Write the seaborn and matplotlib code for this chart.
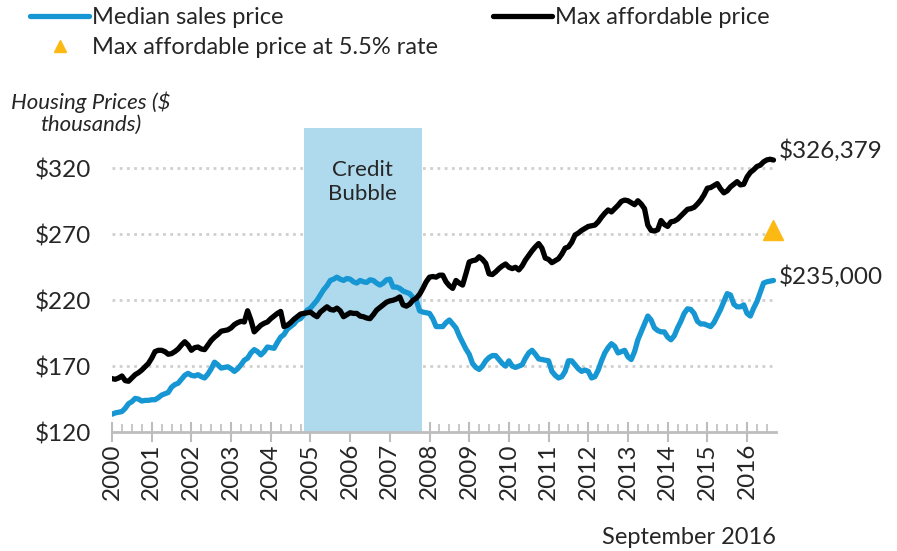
import numpy as np
import pandas as pd
import seaborn as sns
import matplotlib.pyplot as plt
from matplotlib.lines import Line2D
from matplotlib.ticker import MultipleLocator, FixedLocator

sns.set_style('white')
plt.rcParams['font.family'] = ['Lato', 'DejaVu Sans']

# monthly values, Jan 2000 - Sep 2016 ($ thousands)
median_price = [
    133.5, 134.5, 135, 135.5, 138, 141.5, 143, 145.5, 145, 143.5, 144, 144,
    144.5, 144.5, 146, 148, 149, 150, 154, 156, 157, 160, 163, 164.5,
    163, 162.5, 163.5, 162, 161, 164, 168, 173, 171, 168.5, 169, 169.5,
    168, 166, 168, 171, 174.5, 176, 180, 182.5, 181, 178.5, 181, 184.5,
    184, 183.5, 188, 192, 194, 198, 200, 202, 205, 206, 209, 212.5,
    214, 217, 220, 224, 228, 231, 235, 236, 237.5, 236, 235, 236.5,
    236, 234, 233, 235, 234, 233.5, 235.5, 235, 233, 231.5, 233, 235.5,
    236, 230, 230, 229, 227, 226, 225, 222, 220, 212, 211, 210.5,
    210, 206, 200, 200, 200, 203, 205, 202, 199, 193, 188, 183,
    179, 172, 169, 167.5, 170, 174, 176.5, 178, 178, 175, 172, 170,
    174, 170, 169, 170, 171, 176, 180, 182, 179, 175.5, 175, 174.5,
    174, 166, 163, 161, 162, 166, 174, 174, 171, 168, 166, 167,
    166, 161, 162, 167, 174, 180, 184, 187, 185, 180, 181, 182,
    177, 175, 181, 190, 196, 202, 208, 205, 199, 197, 196, 196,
    192, 190, 193, 199, 204, 210, 213.5, 213, 210, 204, 202, 202,
    201, 200, 203, 208, 213, 219, 225, 224, 217, 215, 215, 216.5,
    210, 208, 214, 219, 226, 233, 234, 234.5, 235,
]
max_affordable = [
    160.5, 160, 161, 162.5, 159, 158.5, 161, 163.5, 165, 167, 169.5, 172,
    176, 181, 182, 182, 181, 179, 179.5, 181, 183, 186, 188.5, 186,
    182, 184, 184.5, 183, 182.5, 186, 189.5, 192, 194, 196.5, 197, 197.5,
    199, 201.5, 203, 204, 203.5, 212, 205, 196, 198.5, 201, 202.5, 203.5,
    206, 208, 210, 211.5, 200, 201, 203, 205.5, 207.5, 209.5, 210, 210.5,
    211, 209, 207.5, 211, 213, 215, 213, 212.5, 214, 212, 207.5, 209,
    210.5, 210, 210, 208, 207.5, 206.5, 206, 209, 212.5, 214.5, 216.5, 218.5,
    219.5, 220, 221, 222.5, 216.5, 215.5, 217, 220, 221.5, 224.5, 229, 234,
    237.5, 238, 237.5, 239, 239, 234, 231, 229, 235, 233, 231.5, 240,
    249, 250, 250.5, 253, 251, 248, 240, 239.5, 241.5, 244, 246, 247.5,
    245, 244, 245, 243, 246, 250.5, 254, 257.5, 260.5, 263, 259.5, 252,
    251, 248.5, 250, 251.5, 255, 259.5, 260.5, 264, 269.5, 271, 273, 274.5,
    276, 276.5, 277, 279.5, 283, 286, 288.5, 287, 289.5, 292, 295, 296,
    295.5, 294, 292.5, 295.5, 293, 289.5, 277, 273, 272.5, 273.5, 280.5, 277.5,
    276, 279.5, 280, 281.5, 284, 286.5, 289, 289.5, 290.5, 293, 296, 300,
    305, 305.5, 307, 308.5, 304.5, 301.5, 303, 306, 308, 310, 307.5, 308,
    313.5, 317, 319, 321.5, 322.5, 325, 326.5, 327, 326.379,
]
rate_55_price = 273
bubble_start, bubble_end = 2004.83, 2007.8
years = list(range(2000, 2017))
yticks = [120, 170, 220, 270, 320]

dates = pd.date_range('2000-01-01', periods=len(median_price), freq='MS')
dec_year = dates.year + (dates.month - 1) / 12

df = pd.DataFrame({
    'year': np.concatenate([dec_year, dec_year]),
    'price': median_price + max_affordable,
    'series': ['Median sales price'] * len(median_price) + ['Max affordable price'] * len(max_affordable),
})

blue = '#1696d2'
yellow = '#fdb913'

fig = plt.figure(figsize=(8.97, 5.51), dpi=100)
ax = fig.add_axes([112 / 897, 1 - 432 / 551, (776 - 112) / 897, (432 - 128) / 551])

for v in yticks[1:]:
    ax.axhline(v, color='#cfcfcf', lw=2, ls=(0, (1, 1.6)), zorder=0.5)
ax.axvspan(bubble_start, bubble_end, color='#afdaed', lw=0, zorder=1)
ax.text((bubble_start + bubble_end) / 2, 310, 'Credit\nBubble', ha='center', va='center',
        fontsize=16, linespacing=1.25, zorder=3)

sns.lineplot(data=df, x='year', y='price', hue='series',
             palette={'Median sales price': blue, 'Max affordable price': 'black'},
             lw=3.8, legend=False, ax=ax, zorder=4)
for ln in ax.lines:
    ln.set_solid_capstyle('round')
    ln.set_solid_joinstyle('round')

ax.plot(dec_year[-1], rate_55_price, marker='^', ms=14, color=yellow, ls='none',
        zorder=5, clip_on=False)

ax.annotate('${:,.0f}'.format(max_affordable[-1] * 1000), xy=(dec_year[-1], max_affordable[-1]),
            xytext=(4, 7), textcoords='offset points', va='center', ha='left',
            fontsize=17.5, annotation_clip=False)
ax.annotate('${:,.0f}'.format(median_price[-1] * 1000), xy=(dec_year[-1], median_price[-1]),
            xytext=(4, 3), textcoords='offset points', va='center', ha='left',
            fontsize=17.5, annotation_clip=False)

ax.set_xlim(2000, 2016.73)
ax.set_ylim(120, 350.7)
ax.xaxis.set_major_locator(FixedLocator(years))
ax.xaxis.set_minor_locator(MultipleLocator(0.25))
ax.set_xticklabels([str(y) for y in years], rotation=90, fontsize=17.5)
ax.set_yticks(yticks)
ax.set_yticklabels(['${}'.format(v) for v in yticks], fontsize=17.5)
ax.tick_params(axis='x', which='major', direction='inout', length=14, width=1.5,
               color='#bdbdbd', pad=1, bottom=True)
ax.tick_params(axis='x', which='minor', direction='in', length=6, width=1.2,
               color='#bdbdbd', bottom=True)
ax.tick_params(axis='y', length=0, pad=15)
ax.set_xlabel('')
ax.set_ylabel('')
for s in ['top', 'right', 'left']:
    ax.spines[s].set_visible(False)
ax.spines['bottom'].set_color('#bdbdbd')
ax.spines['bottom'].set_linewidth(2)

fig.text(91 / 897, 1 - 113 / 551, 'Housing Prices ($\nthousands)', ha='center', va='center',
         fontsize=16, style='italic', linespacing=1.1)
fig.text(776 / 897, 1 - 537 / 551, 'September 2016', ha='right', va='center', fontsize=17)

handles = [
    Line2D([], [], color=blue, lw=3.8),
    Line2D([], [], color=yellow, marker='^', ms=9, ls='none'),
    Line2D([], [], color='black', lw=3.8),
]
labels = ['Median sales price', 'Max affordable price at 5.5% rate', 'Max affordable price']
fig.legend(handles, labels, loc='upper left', bbox_to_anchor=(30 / 897, 1 - 7 / 551), ncol=2,
           frameon=False, fontsize=17, handlelength=2.5, handletextpad=0.12,
           columnspacing=2.35, labelspacing=0.4, borderaxespad=0, borderpad=0)

fig.savefig('out.png', dpi=100)
